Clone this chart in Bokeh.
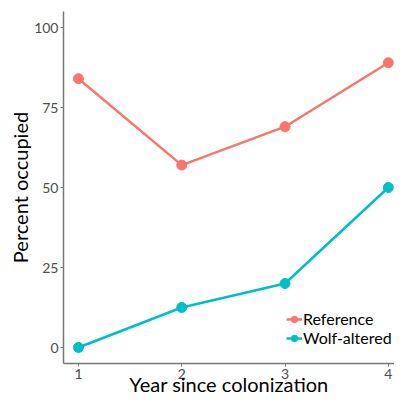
from bokeh.plotting import figure
from bokeh.embed import file_html
from bokeh.resources import INLINE
from bokeh.models import Range1d, FixedTicker, Legend, LegendItem

years = [1, 2, 3, 4]
reference = [84, 57, 69, 89]
wolf_altered = [0, 12.5, 20, 50]
series_names = ["Reference", "Wolf-altered"]
colors = ["#F8766D", "#00BFC4"]
y_ticks = [0, 25, 50, 75, 100]

FONT = "Lato"

p = figure(frame_width=331, frame_height=352, output_backend="svg", toolbar_location=None,
           x_range=Range1d(0.855, 4.06), y_range=Range1d(-5, 105),
           min_border_left=63, min_border_right=0, min_border_top=11, min_border_bottom=0)
p.background_fill_color = "white"
p.border_fill_color = "white"
p.outline_line_color = None
p.xgrid.grid_line_color = None
p.ygrid.grid_line_color = None

items = []
for name, vals, col in zip(series_names, [reference, wolf_altered], colors):
    l = p.line(years, vals, line_color=col, line_width=2.5)
    s = p.scatter(years, vals, size=10, fill_color=col, line_color=col)
    items.append(LegendItem(label=name, renderers=[l, s]))

p.xaxis.ticker = FixedTicker(ticks=years)
p.yaxis.ticker = FixedTicker(ticks=y_ticks)
for ax in [p.xaxis[0], p.yaxis[0]]:
    ax.axis_line_color = "#777777"
    ax.axis_line_width = 1.5
    ax.major_tick_line_color = "#777777"
    ax.major_tick_out = 3
    ax.major_tick_in = 0
    ax.minor_tick_line_color = None
    ax.major_label_text_font = FONT
    ax.major_label_text_font_size = "14px"
    ax.major_label_text_color = "#4D4D4D"
    ax.major_label_standoff = 2
    ax.axis_label_text_font = FONT
    ax.axis_label_text_font_size = "20px"
    ax.axis_label_text_font_style = "normal"
    ax.axis_label_text_color = "black"
p.xaxis.axis_label_standoff = -10
p.yaxis.axis_label_standoff = -1

p.xaxis.axis_label = "Year since colonization"
p.yaxis.axis_label = "Percent occupied"

legend = Legend(items=items, location=(223, 16))
legend.background_fill_alpha = 0
legend.border_line_color = None
legend.padding = 0
legend.margin = 0
legend.spacing = 0
legend.label_height = 16
legend.glyph_height = 16
legend.glyph_width = 16
legend.label_standoff = 1
legend.label_text_font = FONT
legend.label_text_font_size = "16px"
legend.label_text_color = "black"
p.add_layout(legend)

open("out.html", "w").write(file_html(p, INLINE))
